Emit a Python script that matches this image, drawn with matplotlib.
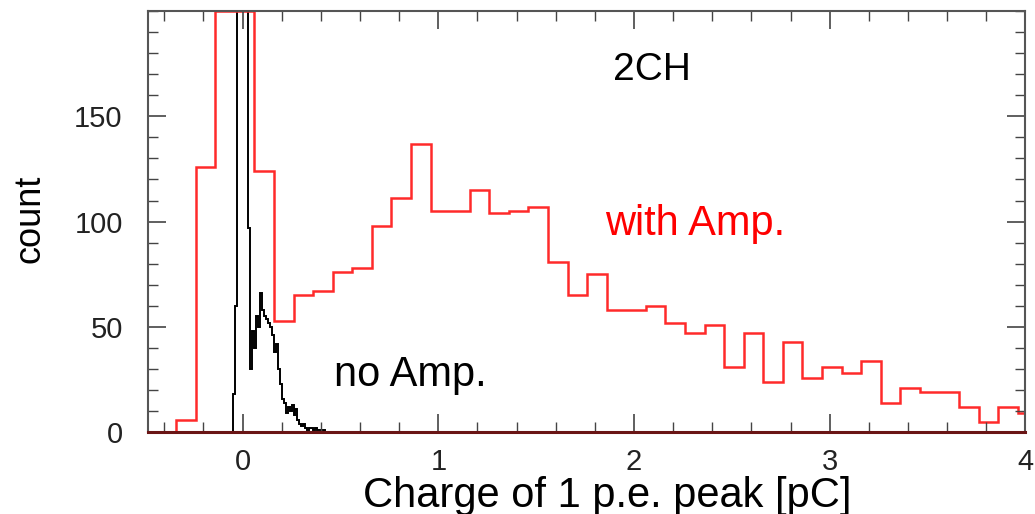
import numpy as np
import matplotlib
matplotlib.use("Agg")
from matplotlib import pyplot as plt
from matplotlib.ticker import MultipleLocator

plt.rcParams['font.family'] = ['Liberation Sans', 'DejaVu Sans']

# Histograma con amplificador (rojo), bins de 0.1 pC
red_start = -0.44
red_width = 0.1
# los bins saturados se dejan en el borde superior del marco (200)
red_counts = [0, 6, 126, 200, 200, 124, 53, 65, 67, 76,
              78, 98, 111, 137, 105, 105, 115, 104, 105, 107,
              81, 65, 75, 58, 58, 60, 52, 47, 51, 31,
              47, 24, 43, 26, 31, 28, 34, 14, 21, 19,
              19, 12, 5, 12, 9]

# Histograma sin amplificador (negro), bins de 0.01 pC
black_start = -0.05
black_width = 0.01
black_counts = [18, 60, 480, 1100, 1500, 1300, 900, 450, 97, 30,
                48, 40, 55, 50, 66, 58, 55, 54, 52, 50,
                46, 38, 42, 30, 23, 16, 14, 9, 12, 10,
                13, 8, 11, 6, 4, 3, 4, 2, 1, 2,
                2, 1, 2, 1, 1, 0, 1, 0, 0, 0,
                0, 0, 0, 0, 0]

y_ticks = [0, 50, 100, 150]
x_ticks = [0, 1, 2, 3, 4]

red_edges = red_start + red_width * np.arange(len(red_counts) + 1)
black_edges = black_start + black_width * np.arange(len(black_counts) + 1)

fig = plt.figure(figsize=(10.35, 5.14), dpi=100)
ax = fig.add_axes([0.1427, 0.159, 0.8481, 0.8197])

ax.stairs(black_counts, black_edges, color='black', lw=1.4, baseline=0)
ax.stairs(red_counts, red_edges, color='#ff2a2a', lw=1.8, baseline=0)

ax.set_xlim(-0.485, 4.0)
ax.set_ylim(0, 200)
ax.set_xticks(x_ticks)
ax.set_yticks(y_ticks)
ax.xaxis.set_minor_locator(MultipleLocator(0.2))
ax.yaxis.set_minor_locator(MultipleLocator(10))
ax.tick_params(which='both', direction='in', top=True, right=True,
               colors='#444444', labelcolor='#222222', labelsize=21)
ax.tick_params(which='major', length=13, width=1.2)
ax.tick_params(which='minor', length=7, width=1.0)
ax.tick_params(axis='x', pad=11)
ax.tick_params(axis='y', pad=18)

for side in ['left', 'top', 'right']:
    ax.spines[side].set_color('#555555')
    ax.spines[side].set_linewidth(1.5)
ax.spines['bottom'].set_color('#6a1515')
ax.spines['bottom'].set_linewidth(2.2)

ax.set_xlabel('Charge of 1 p.e. peak [pC]', fontsize=30, va='baseline')
ax.xaxis.set_label_coords(0.524, -0.177)
fig.text(30 / 1035, 1 - 219 / 514, 'count', fontsize=26, rotation=90,
         ha='center', va='center')

ax.text(2.09, 167, '2CH', fontsize=28, ha='center', va='baseline')
ax.text(2.31, 93.7, 'with Amp.', fontsize=30, color='red', ha='center', va='baseline')
ax.text(0.855, 22, 'no Amp.', fontsize=30, ha='center', va='baseline')

plt.savefig('out.png', dpi=100)
